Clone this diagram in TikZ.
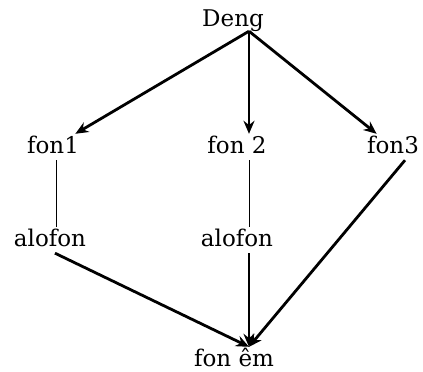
\documentclass[tikz,border=0pt]{standalone}
\usepackage{fontspec}
\setmainfont{DejaVu Serif}
\usepackage{tikz}
\usetikzlibrary{arrows.meta}

\begin{document}
\begin{tikzpicture}[
  x=1pt, y=-1pt,
  word/.style={anchor=base, inner xsep=1pt, inner ysep=3pt, text height=16pt, text depth=4pt,
               font=\fontsize{23}{26}\selectfont},
  arr/.style={-{Stealth[length=13pt, width=11pt]}, line width=2.8pt},
  link/.style={line width=1pt},
]
  \useasboundingbox (0,0) rectangle (423,372);
  \node[word] (deng) at (233,27) {Deng};
  \node[word] (fon1) at (53,153) {fon1};
  \node[word] (fon2) at (237,153) {fon 2};
  \node[word] (fon3) at (393,153) {fon3};
  \node[word] (alofonA) at (50,246) {alofon};
  \node[word] (alofonB) at (237,246) {alofon};
  \node[word] (fonem) at (234,366) {fon êm};
  \coordinate (apex) at ([xshift=16pt, yshift=3pt]deng.south);
  \coordinate (sink) at (apex |- fonem.north);
  \draw[arr] (apex) -- (fon1);
  \draw[arr] (apex) -- (apex |- fon2.north);
  \draw[arr] (apex) -- (fon3);
  \draw[link] ([xshift=3pt]fon1.south) -- ([xshift=3pt]fon1.south |- alofonA.north);
  \draw[link] (apex |- fon2.south) -- (apex |- alofonB.north);
  \draw[arr] ([xshift=5pt]alofonA.south) -- (sink);
  \draw[arr] (apex |- alofonB.south) -- (sink);
  \draw[arr] ([xshift=12pt]fon3.south) -- (sink);
\end{tikzpicture}
\end{document}
